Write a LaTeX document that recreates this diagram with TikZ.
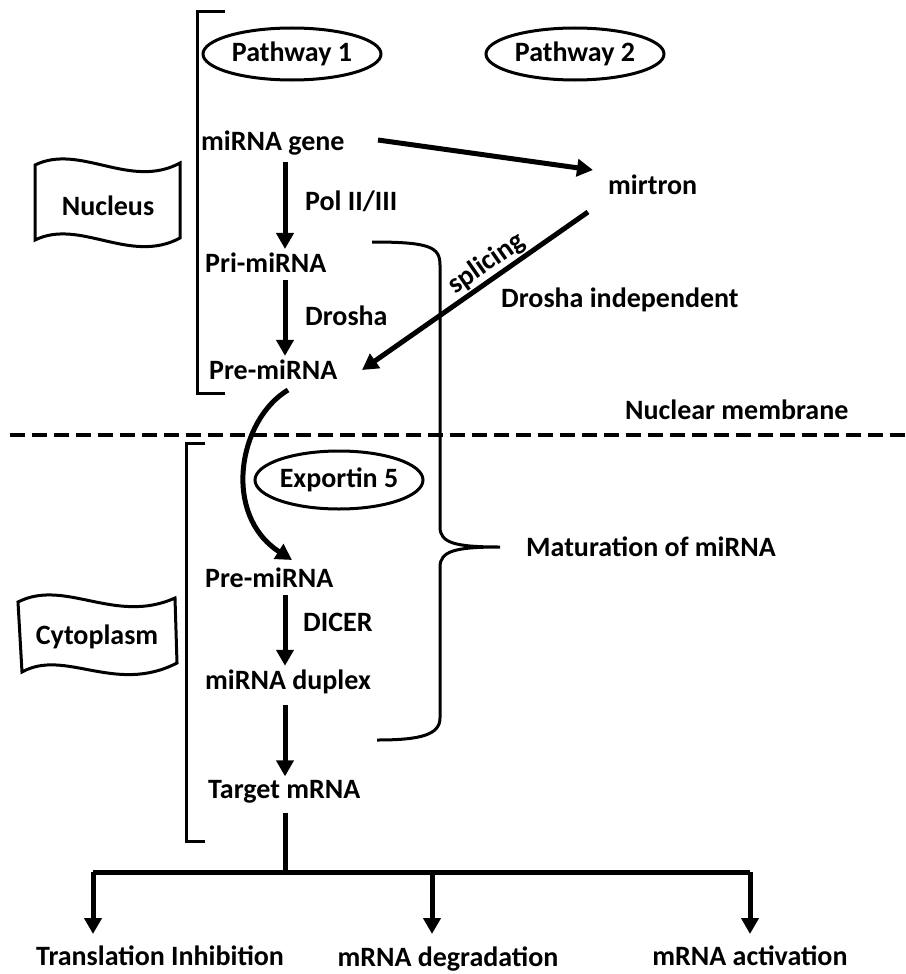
\documentclass[tikz,border=0pt]{standalone}
\usepackage{fontspec}
\setmainfont{Carlito}
\usetikzlibrary{arrows.meta,shapes.geometric}

\begin{document}
\begin{tikzpicture}[x=1pt,y=-1pt,
    lbl/.style={font=\fontsize{28}{32}\selectfont\bfseries, inner sep=1pt},
    oval/.style={lbl, draw, ellipse, line width=3pt, minimum width=178pt, minimum height=52pt, inner sep=0pt},
    flow/.style={line width=5pt, -{Triangle[length=16pt,width=17pt]}},
    bar/.style={line width=3pt}]
    \useasboundingbox (0,0) rectangle (905,974);

    \node[oval] (path1) at (292,54) {Pathway 1};
    \node[oval] (path2) at (575,54) {Pathway 2};
    \node[oval, minimum width=168pt, minimum height=58pt] (exp) at (339,480) {Exportin 5};

    \node[lbl, anchor=west] (gene) at (200,143) {miRNA gene};
    \node[lbl, anchor=west] (mirtron) at (607,185) {mirtron};
    \node[lbl, anchor=west] (pri) at (204,263) {Pri-miRNA};
    \node[lbl, anchor=west] (pre1) at (208,370) {Pre-miRNA};
    \node[lbl, anchor=west] (pre2) at (204,578) {Pre-miRNA};
    \node[lbl, anchor=west] (duplex) at (204,682) {miRNA duplex};
    \node[lbl, anchor=west] (target) at (207,792) {Target mRNA};

    \node[lbl, anchor=west] (pol) at (304,201) {Pol II/III};
    \node[lbl, anchor=west] (drosha) at (304,316) {Drosha};
    \node[lbl, anchor=west] (dicer) at (302,622) {DICER};
    \node[lbl, anchor=west] (indep) at (500,300) {Drosha independent};
    \node[lbl, anchor=west] (membrane) at (624,410) {Nuclear membrane};
    \node[lbl, anchor=west] (mature) at (525,547) {Maturation of miRNA};

    \node[lbl] (trans) at (160,956) {Translation Inhibition};
    \node[lbl] (degr) at (448,959) {mRNA degradation};
    \node[lbl] (activ) at (750,956) {mRNA activation};

    \draw[line width=3pt] (35,165) .. controls (80,143) and (130,190) .. (180,163)
        -- (180,238) .. controls (130,265) and (80,218) .. (35,240) -- cycle;
    \node[lbl] (nucleus) at (108,206) {Nucleus};
    \draw[line width=3pt] (18,602) .. controls (65,578) and (115,625) .. (175,598)
        -- (177,663) .. controls (115,695) and (65,648) .. (22,672) -- cycle;
    \node[lbl] (cyto) at (97,637) {Cytoplasm};

    \draw[bar] (225,12) -- (197,12) -- (197,393) -- (225,393);
    \draw[bar] (205,443) -- (186,443) -- (186,841) -- (205,841);

    \draw[bar] (372,242) .. controls (430,242) and (440,247) .. (440,265)
        -- (440,527) .. controls (440,543) and (455,547) .. (500,547)
        .. controls (455,547) and (440,551) .. (440,567)
        -- (440,718) .. controls (440,735) and (420,740) .. (377,740);

    \draw[line width=4pt, dash pattern=on 15pt off 7pt] (10,435) -- (905,435);

    \coordinate (axis) at (285,0);
    \draw[flow] ([yshift=-6pt]gene.south -| axis) -- ([yshift=3pt]pri.north -| axis);
    \draw[flow] ([yshift=-6pt]pri.south -| axis) -- ([yshift=3pt]pre1.north -| axis);
    \draw[flow] ([yshift=-6pt]pre2.south -| axis) -- ([yshift=3pt]duplex.north -| axis);
    \draw[flow] ([yshift=-10pt]duplex.south -| axis) -- ([yshift=3pt]target.north -| axis);
    \draw[flow] (378,140) -- (593,170);
    \draw[flow] (588,212) -- node[lbl, above=0pt, sloped, pos=0.41] {splicing} (362,370);
    \draw[flow] (288,390) .. controls (238,420) and (222,515) .. (292,560);

    \coordinate (split) at (285,872);
    \coordinate (a1) at (93,872);
    \coordinate (a2) at (432,872);
    \coordinate (a3) at (750,872);
    \draw[line width=5pt] ([yshift=-8pt]target.south -| split) -- (split);
    \draw[line width=5pt] (a1) -- (a3);
    \draw[flow] (a1) -- ++(0,62);
    \draw[flow] (a2) -- ++(0,62);
    \draw[flow] (a3) -- ++(0,62);
\end{tikzpicture}
\end{document}
